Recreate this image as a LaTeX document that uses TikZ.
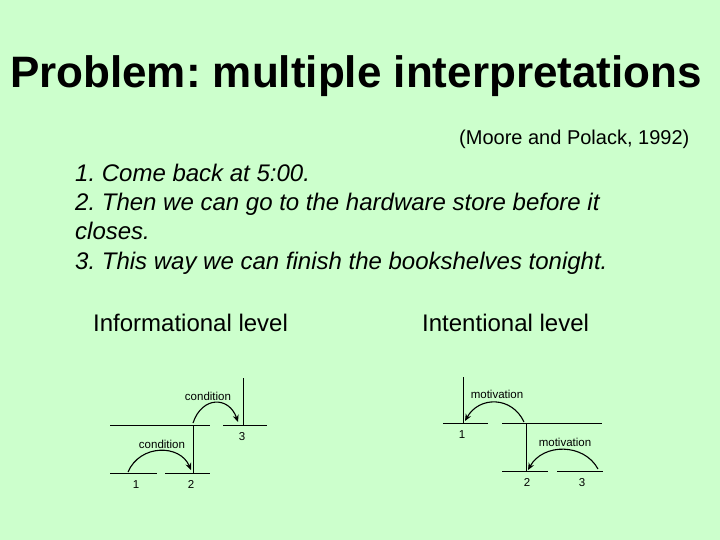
\documentclass[tikz,border=0pt]{standalone}
\usepackage{fontspec}
\setmainfont{Liberation Sans}
\usetikzlibrary{arrows.meta}
\definecolor{slidegreen}{RGB}{204,255,204}
\frenchspacing

\begin{document}
\begin{tikzpicture}[x=1pt,y=-1pt,
    seg/.style={line width=1pt},
    rel/.style={line width=1.1pt,-{Stealth[length=7pt,width=6pt]}},
    lbl/.style={font=\fontsize{11.5}{13}\selectfont,anchor=base,inner sep=0pt},
    txt/.style={anchor=base west,inner sep=0pt}]
% Background of the slide
\fill[slidegreen] (0,0) rectangle (720,540);
\useasboundingbox (0,0) rectangle (720,540);

% Title and reference
\node[anchor=base,inner sep=0pt,font=\fontsize{44}{50}\selectfont\bfseries] (title) at (356,88) {Problem: multiple interpretations};
\node[txt,font=\fontsize{20}{24}\selectfont] (cite) at (459,145) {(Moore and Polack, 1992)};

% The three sentences
\foreach \row/\line in {0/{1. Come back at 5:00.}, 1/{2. Then we can go to the hardware store before it}, 2/{closes.}, 3/{3. This way we can finish the bookshelves tonight.}} {
    \node[txt,font=\fontsize{24}{29}\selectfont\itshape] (s\row) at (75,182+\row*29) {\line};
}

% Level headings
\node[txt,font=\fontsize{24}{29}\selectfont] (info) at (93,331) {Informational level};
\node[txt,font=\fontsize{24}{29}\selectfont] (intent) at (422,331) {Intentional level};

% Informational tree
\coordinate (i1a) at (110,473); \coordinate (i1b) at (157,473);
\coordinate (i2a) at (165,473); \coordinate (i2b) at (193,473);
\coordinate (i2c) at (210,473);
\coordinate (iua) at (110,425); \coordinate (iub) at (193,425);
\coordinate (iuc) at (210,425);
\coordinate (i3a) at (223,425); \coordinate (i3b) at (243,425);
\coordinate (i3c) at (267,425); \coordinate (itop) at (243,378);
\draw[seg] (i1a) -- (i1b);
\draw[seg] (i2a) -- (i2c);
\draw[seg] (iua) -- (iuc);
\draw[seg] (i3a) -- (i3c);
\draw[seg] (iub) -- (i2b);
\draw[seg] (itop) -- (i3b);
\draw[rel] (128,472) .. controls (140,444) and (180,444) .. (191,470);
\draw[rel] (193,423) .. controls (202,396) and (229,396) .. (238,422);
\node[lbl] (icond1) at (162,448) {condition};
\node[lbl] (icond2) at (208,400) {condition};
\node[lbl] (n1) at (136,488) {1};
\node[lbl] (n2) at (191,488) {2};
\node[lbl] (n3) at (242,440) {3};

% Intentional tree
\coordinate (t1a) at (443,423); \coordinate (t1b) at (463,423);
\coordinate (t1c) at (488,423); \coordinate (ttop) at (463,377);
\coordinate (tua) at (502,423); \coordinate (tub) at (526,423);
\coordinate (tuc) at (602,423);
\coordinate (t2a) at (502,471); \coordinate (t2b) at (526,471);
\coordinate (t2c) at (548,471);
\coordinate (t3a) at (557,471); \coordinate (t3b) at (603,471);
\draw[seg] (t1a) -- (t1c);
\draw[seg] (ttop) -- (t1b);
\draw[seg] (tua) -- (tuc);
\draw[seg] (tub) -- (t2b);
\draw[seg] (t2a) -- (t2c);
\draw[seg] (t3a) -- (t3b);
\draw[rel] (524,422) .. controls (512,396) and (479,396) .. (465,421);
\draw[rel] (598,469) .. controls (584,443) and (543,443) .. (528,470);
\node[lbl] (tmot1) at (497,398) {motivation};
\node[lbl] (tmot2) at (565,446) {motivation};
\node[lbl] (m1) at (462,438) {1};
\node[lbl] (m2) at (527,486) {2};
\node[lbl] (m3) at (582,486) {3};
\end{tikzpicture}
\end{document}
